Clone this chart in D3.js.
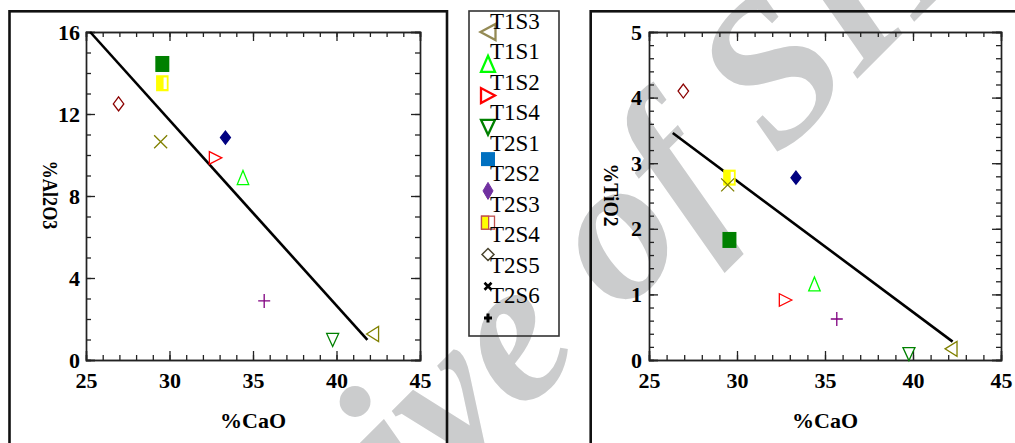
<!DOCTYPE html>
<html>
<head>
<meta charset="utf-8">
<script src="https://cdn.jsdelivr.net/npm/d3@7"></script>
<style>
  html, body { margin: 0; padding: 0; background: #fff; }
  svg { display: block; }
</style>
</head>
<body>
<svg id="chart" width="1015" height="443"></svg>
<script>
// ---------------- data ----------------
const series = ["T1S3", "T1S1", "T1S2", "T1S4", "T2S1", "T2S2", "T2S3", "T2S4", "T2S5", "T2S6"];
const cao    = [42.16, 34.40, 32.76, 39.77, 29.57, 33.35, 29.57, 26.95, 29.47, 35.67];
const al2o3  = [1.27, 8.90, 9.86, 0.98, 14.44, 10.85, 13.50, 12.49, 10.65, 2.88];
const tio2   = [0.17, 1.16, 0.915, 0.09, 1.83, 2.78, 2.78, 4.10, 2.67, 0.625];
const fitAlX = [25.25, 41.85];
const fitAlY = [16.0, 0.98];
const fitTiX = [26.35, 42.25];
const fitTiY = [3.46, 0.28];
const xTicks = [25, 30, 35, 40, 45];
const yTicksAl = [0, 4, 8, 12, 16];
const yTicksTi = [0, 1, 2, 3, 4, 5];
const xTitle = "%CaO";
const yTitleAl = "%Al2O3";
const yTitleTi = "%TiO2";
const watermark = "Archive of SID";

// ---------------- styles ----------------
const FONT = "Liberation Serif";
const chartStyle = [
  {shape: "left",  stroke: "#808000", fill: "none", w: 12, h: 15},
  {shape: "up",    stroke: "#00ff00", fill: "none", w: 11.5, h: 14},
  {shape: "right", stroke: "#ff0000", fill: "none", w: 12.5, h: 12.5},
  {shape: "down",  stroke: "#008000", fill: "none", w: 12, h: 13},
  {shape: "square", stroke: "none", fill: "#008000", w: 14, h: 16},
  {shape: "diamond", stroke: "#000080", fill: "#000080", w: 10, h: 13},
  {shape: "half", stroke: "#ffff00", fill: "#ffff00", inner: "#ffffff", w: 12.5, h: 16},
  {shape: "diamond", stroke: "#8b0000", fill: "none", w: 10.5, h: 14},
  {shape: "x", stroke: "#808000", fill: "none", w: 13, h: 13},
  {shape: "plus", stroke: "#800080", fill: "none", w: 12, h: 14}
];
const legendStyle = [
  {shape: "left",  stroke: "#948a54", fill: "none", w: 15, h: 16, sw: 2.3},
  {shape: "up",    stroke: "#00ff00", fill: "none", w: 14, h: 16, sw: 2.3},
  {shape: "right", stroke: "#ff0000", fill: "none", w: 14, h: 15, sw: 2.3},
  {shape: "down",  stroke: "#008000", fill: "none", w: 14, h: 15, sw: 2.3},
  {shape: "square", stroke: "none", fill: "#0070c0", w: 14, h: 14},
  {shape: "diamond", stroke: "#7030a0", fill: "#7030a0", w: 10, h: 17, sw: 1},
  {shape: "half", stroke: "#c0504d", fill: "#ffff00", inner: "#ffffff", w: 13, h: 13, sw: 1.3, legend: true},
  {shape: "diamond", stroke: "#4a4530", fill: "none", w: 12, h: 12, sw: 1.5},
  {shape: "x", stroke: "#000", fill: "none", w: 7, h: 7, sw: 2.6},
  {shape: "plus", stroke: "#000", fill: "none", w: 8, h: 9, sw: 3}
];

const svg = d3.select("#chart");

// ---------------- watermark (behind everything) ----------------
svg.append("text")
  .attr("transform", "translate(118,818) rotate(-45)")
  .attr("font-family", FONT)
  .attr("font-style", "italic")
  .attr("font-weight", "bold")
  .attr("font-size", 205)
  .attr("fill", "#cbcccd")
  .text(watermark);

// ---------------- frames ----------------
svg.append("rect").attr("x", 9.5).attr("y", 11.3).attr("width", 437.5).attr("height", 500)
  .attr("fill", "none").attr("stroke", "#111").attr("stroke-width", 2.6);
svg.append("rect").attr("x", 590.7).attr("y", 11.3).attr("width", 500).attr("height", 500)
  .attr("fill", "none").attr("stroke", "#111").attr("stroke-width", 2.6);

// ---------------- marker drawing ----------------
function drawMarker(g, st, sw) {
  const w = st.w, h = st.h;
  const strokeW = st.sw || sw || 1.3;
  let p;
  switch (st.shape) {
    case "up": p = `M0,${-h/2}L${w/2},${h/2}L${-w/2},${h/2}Z`; break;
    case "down": p = `M0,${h/2}L${w/2},${-h/2}L${-w/2},${-h/2}Z`; break;
    case "left": p = `M${-w/2},0L${w/2},${-h/2}L${w/2},${h/2}Z`; break;
    case "right": p = `M${w/2},0L${-w/2},${-h/2}L${-w/2},${h/2}Z`; break;
    case "diamond": p = `M0,${-h/2}L${w/2},0L0,${h/2}L${-w/2},0Z`; break;
  }
  if (p) {
    g.append("path").attr("d", p).attr("fill", st.fill)
      .attr("stroke", st.stroke).attr("stroke-width", strokeW).attr("stroke-linejoin", "miter");
    return;
  }
  if (st.shape === "square") {
    g.append("rect").attr("x", -w/2).attr("y", -h/2).attr("width", w).attr("height", h).attr("fill", st.fill);
  } else if (st.shape === "half") {
    if (st.legend) {
      g.append("rect").attr("x", -w/2).attr("y", -h/2).attr("width", w).attr("height", h)
        .attr("fill", st.inner).attr("stroke", st.stroke).attr("stroke-width", strokeW);
      g.append("rect").attr("x", -w/2).attr("y", -h/2).attr("width", w*0.55).attr("height", h)
        .attr("fill", st.fill).attr("stroke", st.stroke).attr("stroke-width", strokeW);
    } else {
      g.append("rect").attr("x", -w/2).attr("y", -h/2).attr("width", w).attr("height", h).attr("fill", st.fill);
      g.append("rect").attr("x", w/2 - 5).attr("y", -h/2 + 2.2).attr("width", 3.2).attr("height", h - 4.4).attr("fill", st.inner);
    }
  } else if (st.shape === "x") {
    g.append("path").attr("d", `M${-w/2},${-h/2}L${w/2},${h/2}M${w/2},${-h/2}L${-w/2},${h/2}`)
      .attr("stroke", st.stroke).attr("stroke-width", strokeW).attr("fill", "none");
  } else if (st.shape === "plus") {
    g.append("path").attr("d", `M${-w/2},0L${w/2},0M0,${-h/2}L0,${h/2}`)
      .attr("stroke", st.stroke).attr("stroke-width", strokeW).attr("fill", "none");
  }
}

function styleAxis(a) {
  a.select(".domain").attr("stroke", "#222").attr("stroke-width", 1.4);
  a.selectAll(".tick line").attr("stroke", "#222").attr("stroke-width", 1.3);
}

// ---------------- panel ----------------
function panel(opt) {
  const x = d3.scaleLinear().domain([25, 45]).range([opt.x0, opt.x1]);
  const y = d3.scaleLinear().domain([0, opt.ymax]).range([360, 32]);
  const g = svg.append("g");

  const minorX = d3.range(25, 45.001, 1);
  const minorY = d3.range(0, opt.ymax + 1e-6, opt.minorStep);

  const axes = [];
  axes.push(g.append("g").attr("transform", "translate(0,360)")
    .call(d3.axisBottom(x).tickValues(minorX).tickSize(-5).tickFormat("")));
  axes.push(g.append("g").attr("transform", "translate(0,32)")
    .call(d3.axisTop(x).tickValues(minorX).tickSize(-5).tickFormat("")));
  axes.push(g.append("g").attr("transform", `translate(${opt.x0},0)`)
    .call(d3.axisLeft(y).tickValues(minorY).tickSize(-5).tickFormat("")));
  axes.push(g.append("g").attr("transform", `translate(${opt.x1},0)`)
    .call(d3.axisRight(y).tickValues(minorY).tickSize(-5).tickFormat("")));
  const bx = g.append("g").attr("transform", "translate(0,360)")
    .call(d3.axisBottom(x).tickValues(xTicks).tickSize(-9).tickPadding(12).tickFormat(d3.format("d")));
  axes.push(bx);
  axes.push(g.append("g").attr("transform", "translate(0,32)")
    .call(d3.axisTop(x).tickValues(xTicks).tickSize(-9).tickFormat("")));
  const ly = g.append("g").attr("transform", `translate(${opt.x0},0)`)
    .call(d3.axisLeft(y).tickValues(opt.yTicks).tickSize(-9).tickPadding(opt.ypad).tickFormat(d3.format("d")));
  axes.push(ly);
  axes.push(g.append("g").attr("transform", `translate(${opt.x1},0)`)
    .call(d3.axisRight(y).tickValues(opt.yTicks).tickSize(-9).tickFormat("")));
  axes.forEach(styleAxis);
  [bx, ly].forEach(a => a.selectAll("text")
    .attr("font-family", FONT).attr("font-size", 22).attr("font-weight", "bold").attr("fill", "#000"));

  const line = d3.line().x(d => x(d[0])).y(d => y(d[1]));
  g.append("path").datum(d3.zip(opt.fitX, opt.fitY)).attr("d", line)
    .attr("fill", "none").attr("stroke", "#000").attr("stroke-width", 2.6);

  series.forEach((s, i) => {
    const mg = g.append("g").attr("transform", `translate(${x(cao[i])},${y(opt.vals[i])})`);
    drawMarker(mg, chartStyle[i]);
  });

  svg.append("text").attr("x", (opt.x0 + opt.x1) / 2).attr("y", 428)
    .attr("text-anchor", "middle")
    .attr("font-family", FONT).attr("font-weight", "bold").attr("font-size", 22)
    .text(xTitle);
  svg.append("text")
    .attr("transform", `translate(${opt.tx},${y(opt.ymax / 2) - 1}) rotate(90)`)
    .attr("text-anchor", "middle").attr("dy", "0.33em")
    .attr("font-family", FONT).attr("font-weight", "bold").attr("font-size", 21)
    .attr("textLength", opt.tlen).attr("lengthAdjust", "spacingAndGlyphs")
    .text(opt.title);
}

panel({x0: 86, x1: 420, ymax: 16, minorStep: 1, yTicks: yTicksAl, ypad: 6,
       vals: al2o3, fitX: fitAlX, fitY: fitAlY, title: yTitleAl, tx: 50, tlen: 69});
panel({x0: 649, x1: 1001, ymax: 5, minorStep: 0.2, yTicks: yTicksTi, ypad: 7,
       vals: tio2, fitX: fitTiX, fitY: fitTiY, title: yTitleTi, tx: 611, tlen: 63});

// ---------------- legend ----------------
svg.append("rect").attr("x", 469).attr("y", 11).attr("width", 90).attr("height", 325)
  .attr("fill", "none").attr("stroke", "#333").attr("stroke-width", 1.6);
const legText = d3.scalePoint().domain(series).range([29, 303]);
const legSym = d3.scalePoint().domain(series).range([32, 318]);
series.forEach((s, i) => {
  const mg = svg.append("g").attr("transform", `translate(488,${legSym(s)})`);
  drawMarker(mg, legendStyle[i]);
  svg.append("text").attr("x", 490).attr("y", legText(s))
    .attr("font-family", FONT).attr("font-size", 23)
    .attr("fill", "#000").text(s);
});
</script>
</body>
</html>
